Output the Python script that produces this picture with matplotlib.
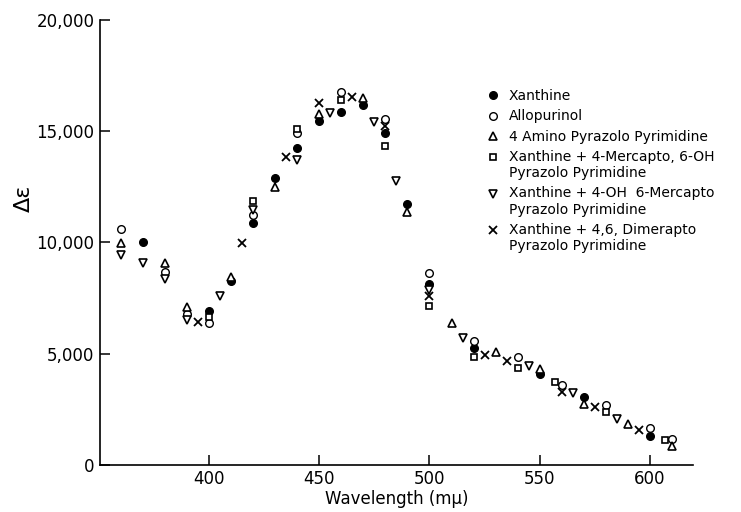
import matplotlib
matplotlib.use("Agg")
import matplotlib.pyplot as plt
from matplotlib.ticker import FuncFormatter
from matplotlib.legend_handler import HandlerLine2D

wl_xanthine = [370, 400, 410, 420, 430, 440, 450, 460, 470, 480, 490, 500, 520, 550, 570, 600]
de_xanthine = [10000, 6900, 8270, 10860, 12880, 14230, 15480, 15850, 16200, 14900, 11730, 8140, 5240, 4070, 3070, 1320]

wl_allo = [360, 380, 390, 400, 420, 440, 460, 480, 500, 520, 540, 560, 580, 600, 610]
de_allo = [10600, 8690, 6780, 6400, 11240, 14910, 16750, 15550, 8640, 5590, 4870, 3600, 2700, 1650, 1150]

wl_amino = [360, 380, 390, 410, 430, 450, 470, 490, 510, 530, 550, 570, 590, 610]
de_amino = [9960, 9070, 7110, 8460, 12480, 15770, 16480, 11380, 6370, 5090, 4300, 2740, 1840, 870]

wl_merc6oh = [400, 420, 440, 460, 480, 500, 520, 540, 557, 580, 607]
de_merc6oh = [6640, 11880, 15100, 16380, 14340, 7160, 4870, 4345, 3715, 2400, 1120]

wl_oh6merc = [360, 370, 380, 390, 405, 420, 440, 455, 475, 485, 500, 515, 545, 565, 585]
de_oh6merc = [9440, 9070, 8360, 6520, 7610, 11460, 13710, 15820, 15400, 12780, 7870, 5690, 4450, 3250, 2070]

wl_dimer = [395, 415, 435, 450, 465, 480, 500, 525, 535, 560, 575, 595]
de_dimer = [6440, 9960, 13860, 16250, 16520, 15250, 7570, 4940, 4690, 3295, 2620, 1570]

labels = [
    "Xanthine",
    "Allopurinol",
    "4 Amino Pyrazolo Pyrimidine",
    "Xanthine + 4-Mercapto, 6-OH\nPyrazolo Pyrimidine",
    "Xanthine + 4-OH  6-Mercapto\nPyrazolo Pyrimidine",
    "Xanthine + 4,6, Dimerapto\nPyrazolo Pyrimidine",
]


class FirstLineHandler(HandlerLine2D):
    # put the marker next to the first line of a two line label
    def create_artists(self, legend, orig_handle, xdescent, ydescent,
                       width, height, fontsize, trans):
        arts = super().create_artists(legend, orig_handle, xdescent, ydescent,
                                      width, height, fontsize, trans)
        for a in arts:
            a.set_ydata([y + 0.6 * fontsize for y in a.get_ydata()])
        return arts


plt.rcParams['font.family'] = ['DejaVu Sans']

fig = plt.figure(figsize=(7.41, 5.12), dpi=100)
ax = fig.add_axes([0.135, 0.092, 0.80, 0.869])

ms = 5.5
h1, = ax.plot(wl_xanthine, de_xanthine, 'o', ms=ms, color='black', mec='black', label=labels[0])
h2, = ax.plot(wl_allo, de_allo, 'o', ms=ms, mfc='white', mec='black', mew=1.0, label=labels[1])
h3, = ax.plot(wl_amino, de_amino, '^', ms=ms + 0.5, mfc='white', mec='black', mew=1.2, label=labels[2])
h4, = ax.plot(wl_merc6oh, de_merc6oh, 's', ms=ms - 0.5, mfc='white', mec='black', mew=1.2, label=labels[3])
h5, = ax.plot(wl_oh6merc, de_oh6merc, 'v', ms=ms + 0.5, mfc='white', mec='black', mew=1.2, label=labels[4])
h6, = ax.plot(wl_dimer, de_dimer, 'x', ms=ms - 0.3, color='black', mew=1.3, label=labels[5])

ax.set_xlim(350.5, 619.5)
ax.set_ylim(0, 20000)
ax.set_xticks([400, 450, 500, 550, 600])
ax.set_yticks([0, 5000, 10000, 15000, 20000])
ax.yaxis.set_major_formatter(FuncFormatter(lambda v, p: f"{v:,.0f}"))
ax.tick_params(direction='in', length=7, width=1.1, labelsize=12, pad=4)
ax.tick_params(axis='x', pad=4)

for s in ['top', 'right']:
    ax.spines[s].set_visible(False)
for s in ['left', 'bottom']:
    ax.spines[s].set_linewidth(1.2)

ax.set_xlabel("Wavelength (mμ)", fontsize=12, labelpad=1)
ax.set_ylabel("Δε", fontsize=16, rotation=90)
ax.yaxis.set_label_coords(-0.111, 0.60)

two_line = FirstLineHandler()
ax.legend(loc='upper left', bbox_to_anchor=(0.64, 0.86), frameon=False,
          fontsize=10, handlelength=1.0, handletextpad=0.6, labelspacing=0.45,
          borderpad=0, numpoints=1,
          handler_map={h4: two_line, h5: two_line, h6: two_line})

fig.savefig("out.png", dpi=100)
